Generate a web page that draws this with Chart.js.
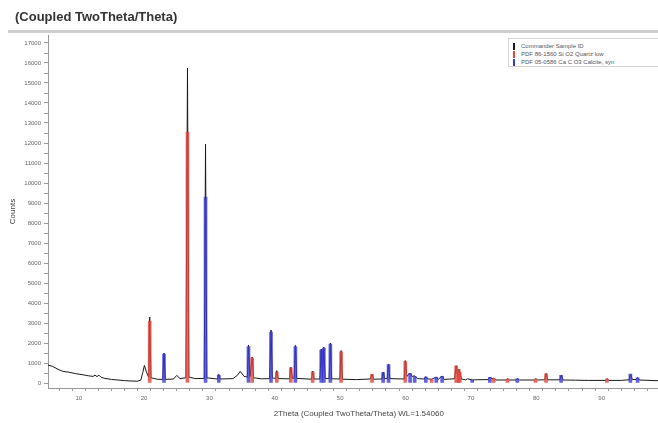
<!DOCTYPE html>
<html>
<head>
<meta charset="utf-8">
<script src="https://cdn.jsdelivr.net/npm/chart.js@4/dist/chart.umd.min.js"></script>
<style>
  html, body { margin:0; padding:0; background:#fff; overflow:hidden; width:658px; height:423px; }
  #hdr { position:absolute; left:15px; top:9px; font:bold 13px "Liberation Sans", Arial, sans-serif; color:#333; }
  #rule { position:absolute; left:8px; top:30px; width:660px; height:3px; background:#cfcfcf; }
  #wrap { position:absolute; left:0; top:0; width:676px; height:423px; }
  #legend { position:absolute; left:508px; top:38px; width:170px; height:29px; border:1px solid #d4d4d4; background:#fff;
            font:6px "Liberation Sans", Arial, sans-serif; color:#555; padding-top:3px; box-sizing:border-box; }
  #legend div { height:8px; line-height:8px; white-space:nowrap; padding-left:4px; }
  #legend span { display:inline-block; width:2px; height:7px; vertical-align:middle; margin-right:6px; }
</style>
</head>
<body>
<div id="wrap"><canvas id="chartXrd" width="676" height="423"></canvas></div>
<div id="hdr">(Coupled TwoTheta/Theta)</div>
<div id="rule"></div>
<div id="legend"></div>
<script>
// ---------------- Datos ----------------
// patron medido (2Theta, Counts)
const medidoX = [5.3, 6.0, 7.0, 7.6, 8.5, 9.5, 10.5, 11.5, 12.2, 12.5, 12.8, 13.1, 13.4, 14.0, 15.0, 16.0, 17.0, 18.0, 19.0, 19.5,
  19.8, 20.05, 20.35, 20.7, 20.86, 21.05, 22.0, 22.85, 23.05, 23.25, 24.5, 25.0, 25.5, 26.4, 26.64, 26.85, 27.8, 29.2, 29.4, 29.6,
  31.2, 31.43, 31.65, 33.6, 34.3, 34.7, 35.3, 35.8, 35.97, 36.2, 36.54, 36.75, 38.0, 39.2, 39.42, 39.62, 40.1, 40.3, 40.5, 42.25,
  42.45, 42.7, 42.95, 43.15, 43.35, 45.6, 45.8, 46.0, 46.9, 47.1, 47.3, 47.5, 47.7, 48.3, 48.5, 48.7, 49.95, 50.14, 50.35, 52.5,
  54.6, 54.87, 55.1, 56.4, 56.57, 56.8, 57.2, 57.4, 57.6, 59.8, 59.96, 60.2, 60.5, 60.7, 61.0, 61.4, 61.8, 62.9, 63.1, 63.4,
  64.0, 64.7, 65.0, 65.6, 65.9, 67.5, 67.74, 67.95, 68.14, 68.3, 68.55, 69.2, 69.5, 70.2, 70.5, 72.6, 72.9, 73.2, 73.5, 73.8,
  75.4, 75.6, 75.9, 76.9, 77.1, 77.4, 79.7, 79.9, 80.2, 81.3, 81.5, 81.75, 83.6, 83.8, 84.1, 86.0, 88.0, 90.6, 90.8, 91.1,
  93.0, 94.2, 94.4, 94.7, 95.3, 95.5, 95.8, 98.0, 101.0];
const medidoY = [900, 830, 660, 580, 540, 470, 420, 360, 330, 390, 320, 390, 290, 230, 180, 150, 120, 100, 90, 150,
  520, 880, 560, 280, 3300, 260, 190, 175, 1500, 180, 200, 380, 220, 260, 15750, 300, 220, 230, 11950, 260,
  200, 430, 200, 220, 390, 580, 330, 300, 1900, 320, 1300, 260, 210, 220, 2650, 250, 230, 620, 220, 210,
  800, 230, 240, 1880, 230, 190, 600, 200, 200, 1700, 260, 1800, 220, 220, 2000, 210, 200, 1620, 190, 170,
  200, 450, 190, 200, 550, 210, 230, 950, 220, 200, 1120, 330, 420, 500, 330, 360, 220, 200, 320, 200,
  190, 300, 180, 350, 180, 210, 870, 420, 700, 550, 200, 160, 210, 150, 160, 170, 300, 200, 250, 150,
  150, 220, 150, 150, 230, 150, 150, 220, 150, 160, 480, 160, 160, 400, 150, 140, 130, 130, 220, 130,
  130, 160, 450, 180, 170, 280, 150, 120, 110];

// lineas de referencia PDF 86-1560 (cuarzo)
const cuarzoX = [20.86, 26.64, 36.54, 40.3, 42.45, 45.8, 50.14, 54.87, 59.96, 64.0, 67.74, 68.14, 68.3, 73.5, 75.6, 79.9, 81.5, 90.8];
const cuarzoY = [3100, 12550, 1250, 560, 760, 560, 1560, 420, 1080, 170, 850, 680, 520, 220, 200, 200, 460, 200];

// lineas de referencia PDF 05-0586 (calcita)
const calcitaX = [23.05, 29.4, 31.43, 35.97, 39.42, 43.15, 47.1, 47.5, 48.5, 56.57, 57.4, 60.7, 61.4, 63.1, 64.7, 65.6, 70.2, 72.9, 77.1, 83.8, 94.4, 95.5];
const calcitaY = [1450, 9300, 400, 1820, 2550, 1820, 1650, 1750, 1950, 520, 920, 480, 330, 300, 280, 330, 150, 280, 210, 380, 440, 260];

// marcas de los ejes
const ticksX = [6, 8, 10, 12, 14, 16, 18, 20, 22, 24, 26, 28, 30, 32, 34, 36, 38, 40, 42, 44, 46, 48, 50, 52, 54, 56, 58,
  60, 62, 64, 66, 68, 70, 72, 74, 76, 78, 80, 82, 84, 86, 88, 90, 92, 94, 96, 98, 100];
const ticksY = [0, 500, 1000, 1500, 2000, 2500, 3000, 3500, 4000, 4500, 5000, 5500, 6000, 6500, 7000, 7500, 8000, 8500,
  9000, 9500, 10000, 10500, 11000, 11500, 12000, 12500, 13000, 13500, 14000, 14500, 15000, 15500, 16000, 16500, 17000];

const etiquetas = ['Commander Sample ID', 'PDF 86-1560 Si O2 Quartz low', 'PDF 05-0586 Ca C O3 Calcite, syn'];
const colores = ['#1a1a1a', '#e2443a', '#3a3ad4'];

// ---------------- Grafico ----------------
const pares = (xs, ys) => xs.map((x, i) => ({ x: x, y: ys[i] }));
const fuente = { family: 'Liberation Sans', size: 6 };

const chartXrd = new Chart(document.getElementById('chartXrd').getContext('2d'), {
  type: 'bar',
  data: {
    datasets: [
      { type: 'line', label: etiquetas[0], data: pares(medidoX, medidoY), borderColor: colores[0], borderWidth: 1,
        pointRadius: 0, tension: 0, fill: false, order: 2 },
      { label: etiquetas[1], data: pares(cuarzoX, cuarzoY), backgroundColor: 'rgba(226,68,58,0.8)', barThickness: 3, grouped: false, order: 1 },
      { label: etiquetas[2], data: pares(calcitaX, calcitaY), backgroundColor: 'rgba(58,58,212,0.8)', barThickness: 3, grouped: false, order: 1 }
    ]
  },
  options: {
    responsive: false,
    animation: false,
    layout: { padding: { top: 35, right: 0, left: 0, bottom: 0 } },
    plugins: { legend: { display: false }, tooltip: { enabled: false } },
    scales: {
      x: {
        type: 'linear', min: 5.3, max: 100.4, offset: false,
        afterBuildTicks: s => { s.ticks = ticksX.map(v => ({ value: v })); },
        afterFit: s => { s.height = 35; },
        ticks: { autoSkip: false, maxRotation: 0, font: fuente, color: '#666', padding: 4,
                 callback: v => (v % 10 === 0 ? v : '') },
        grid: { drawOnChartArea: false, tickLength: 3, color: '#999' },
        border: { color: '#999' },
        title: { display: true, text: '2Theta (Coupled TwoTheta/Theta) WL=1.54060', font: { family: 'Liberation Sans', size: 8 }, color: '#444', padding: { top: 4 } }
      },
      y: {
        type: 'linear', min: -250, max: 17400,
        afterBuildTicks: s => { s.ticks = ticksY.map(v => ({ value: v })); },
        afterFit: s => { s.width = 48; },
        ticks: { autoSkip: false, font: fuente, color: '#666', padding: 3,
                 callback: v => (v % 1000 === 0 ? v : '') },
        grid: { drawOnChartArea: false, tickLength: 4, color: '#999' },
        border: { color: '#999' },
        title: { display: true, text: 'Counts', font: { family: 'Liberation Sans', size: 8 }, color: '#444', padding: { top: 8, bottom: 0 } }
      }
    }
  }
});

// ---------------- Leyenda ----------------
const leyenda = document.getElementById('legend');
chartXrd.data.datasets.forEach((d, i) => {
  const fila = document.createElement('div');
  fila.innerHTML = `<span style="background:${colores[i]}"></span>${d.label}`;
  leyenda.appendChild(fila);
});
</script>
</body>
</html>
